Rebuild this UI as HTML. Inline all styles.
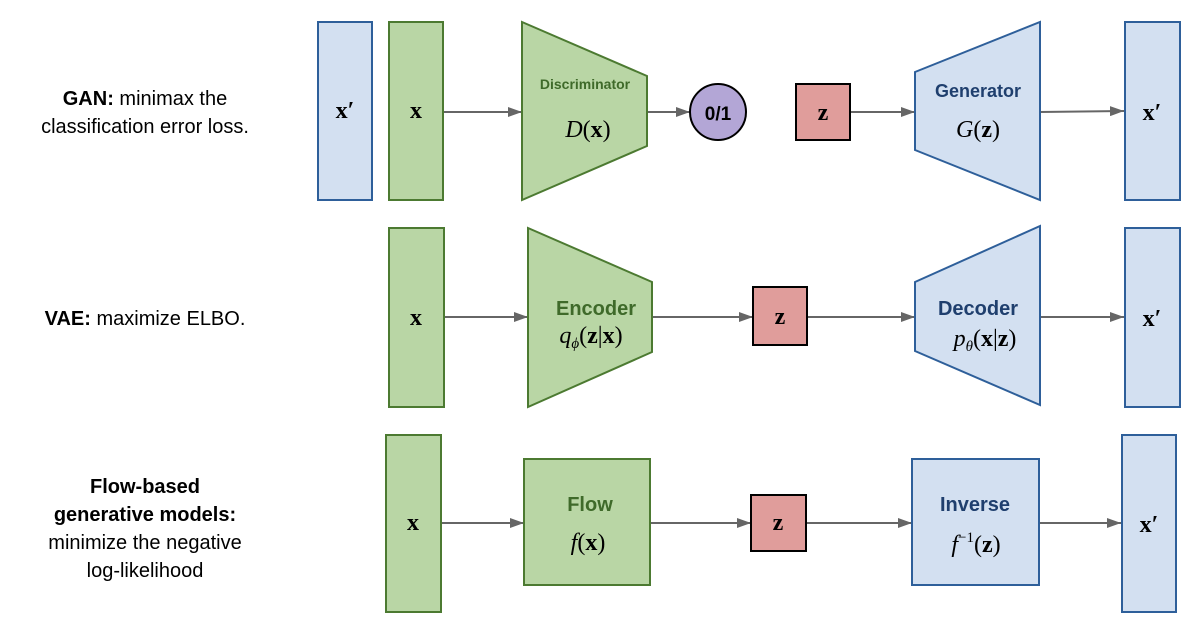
<!DOCTYPE html>
<html><head><meta charset="utf-8"><style>
body{margin:0;background:#fff;width:1186px;height:622px;overflow:hidden}
svg text{font-family:"Liberation Sans",sans-serif}
svg .m text{font-family:"Liberation Serif",serif}
</style></head><body>
<svg width="1186" height="622" xmlns="http://www.w3.org/2000/svg">
<defs>
<marker id="b" viewBox="0 0 14 10" markerWidth="14" markerHeight="10" refX="14" refY="5" orient="auto" markerUnits="userSpaceOnUse"><path d="M0,0 L14,5 L0,10 z" fill="#666"/></marker></defs>
<g font-size="20" text-anchor="middle" fill="#000">
<text x="145" y="105"><tspan font-weight="bold">GAN:</tspan> minimax the</text>
<text x="145" y="133">classification error loss.</text>
<text x="145" y="325"><tspan font-weight="bold">VAE:</tspan> maximize ELBO.</text>
<text x="145" y="493" font-weight="bold">Flow-based</text>
<text x="145" y="521" font-weight="bold">generative models:</text>
<text x="145" y="549">minimize the negative</text>
<text x="145" y="577">log-likelihood</text>
</g>
<g stroke="#666" stroke-width="2" marker-end="url(#b)">
<line x1="443" y1="112" x2="522" y2="112"/><line x1="647" y1="112" x2="690" y2="112"/>
<line x1="850" y1="112" x2="915" y2="112"/><line x1="1040" y1="112" x2="1124" y2="111"/>
<line x1="444" y1="317" x2="528" y2="317"/><line x1="652" y1="317" x2="753" y2="317"/>
<line x1="807" y1="317" x2="915" y2="317"/><line x1="1040" y1="317" x2="1124" y2="317"/>
<line x1="441" y1="523" x2="524" y2="523"/><line x1="650" y1="523" x2="751" y2="523"/>
<line x1="806" y1="523" x2="912" y2="523"/><line x1="1039" y1="523" x2="1121" y2="523"/>
</g>
<g stroke-width="2">
<rect x="318" y="22" width="54" height="178" fill="#d3e0f1" stroke="#2e5f9a"/>
<rect x="389" y="22" width="54" height="178" fill="#b9d6a5" stroke="#4c7a31"/>
<polygon points="522,22 647,76 647,146 522,200" fill="#b9d6a5" stroke="#4c7a31"/>
<circle cx="718" cy="112" r="28" fill="#b3a6d6" stroke="#000"/>
<rect x="796" y="84" width="54" height="56" fill="#e09d9b" stroke="#000"/>
<polygon points="915,72 1040,22 1040,200 915,150" fill="#d3e0f1" stroke="#2e5f9a"/>
<rect x="1125" y="22" width="55" height="178" fill="#d3e0f1" stroke="#2e5f9a"/>
<rect x="389" y="228" width="55" height="179" fill="#b9d6a5" stroke="#4c7a31"/>
<polygon points="528,228 652,282 652,352 528,407" fill="#b9d6a5" stroke="#4c7a31"/>
<rect x="753" y="287" width="54" height="58" fill="#e09d9b" stroke="#000"/>
<polygon points="915,282 1040,226 1040,405 915,351" fill="#d3e0f1" stroke="#2e5f9a"/>
<rect x="1125" y="228" width="55" height="179" fill="#d3e0f1" stroke="#2e5f9a"/>
<rect x="386" y="435" width="55" height="177" fill="#b9d6a5" stroke="#4c7a31"/>
<rect x="524" y="459" width="126" height="126" fill="#b9d6a5" stroke="#4c7a31"/>
<rect x="751" y="495" width="55" height="56" fill="#e09d9b" stroke="#000"/>
<rect x="912" y="459" width="127" height="126" fill="#d3e0f1" stroke="#2e5f9a"/>
<rect x="1122" y="435" width="54" height="177" fill="#d3e0f1" stroke="#2e5f9a"/>
</g>
<g text-anchor="middle">
<text x="718" y="120" font-size="19" font-weight="bold">0/1</text>
<text x="585" y="89" font-size="14" font-weight="bold" fill="#3f6a2a">Discriminator</text>
<text x="978" y="97" font-size="18" font-weight="bold" fill="#1f3f6e">Generator</text>
<text x="596" y="315" font-size="20" font-weight="bold" fill="#3f6a2a">Encoder</text>
<text x="978" y="315" font-size="20" font-weight="bold" fill="#1f3f6e">Decoder</text>
<text x="590" y="511" font-size="20" font-weight="bold" fill="#3f6a2a">Flow</text>
<text x="975" y="511" font-size="20" font-weight="bold" fill="#1f3f6e">Inverse</text>
</g>
<g class="m" text-anchor="middle" font-size="24" fill="#000">
<text x="345" y="118" font-weight="bold">x′</text>
<text x="416" y="118" font-weight="bold">x</text>
<text x="588" y="137"><tspan font-style="italic">D</tspan>(<tspan font-weight="bold">x</tspan>)</text>
<text x="823" y="120" font-weight="bold">z</text>
<text x="978" y="137"><tspan font-style="italic">G</tspan>(<tspan font-weight="bold">z</tspan>)</text>
<text x="1152" y="120" font-weight="bold">x′</text>
<text x="416" y="325" font-weight="bold">x</text>
<text x="591" y="343"><tspan font-style="italic">q</tspan><tspan font-size="15" font-style="italic" dy="5">ϕ</tspan><tspan dy="-5">(</tspan><tspan font-weight="bold">z</tspan>|<tspan font-weight="bold">x</tspan>)</text>
<text x="780" y="324" font-weight="bold">z</text>
<text x="985" y="346"><tspan font-style="italic">p</tspan><tspan font-size="15" font-style="italic" dy="5">θ</tspan><tspan dy="-5">(</tspan><tspan font-weight="bold">x</tspan>|<tspan font-weight="bold">z</tspan>)</text>
<text x="1152" y="326" font-weight="bold">x′</text>
<text x="413" y="530" font-weight="bold">x</text>
<text x="588" y="550"><tspan font-style="italic">f</tspan>(<tspan font-weight="bold">x</tspan>)</text>
<text x="778" y="530" font-weight="bold">z</text>
<text x="976" y="552"><tspan font-style="italic">f</tspan><tspan font-size="15" dy="-10">−1</tspan><tspan dy="10">(</tspan><tspan font-weight="bold">z</tspan>)</text>
<text x="1149" y="532" font-weight="bold">x′</text>
</g>
</svg>
</body></html>
